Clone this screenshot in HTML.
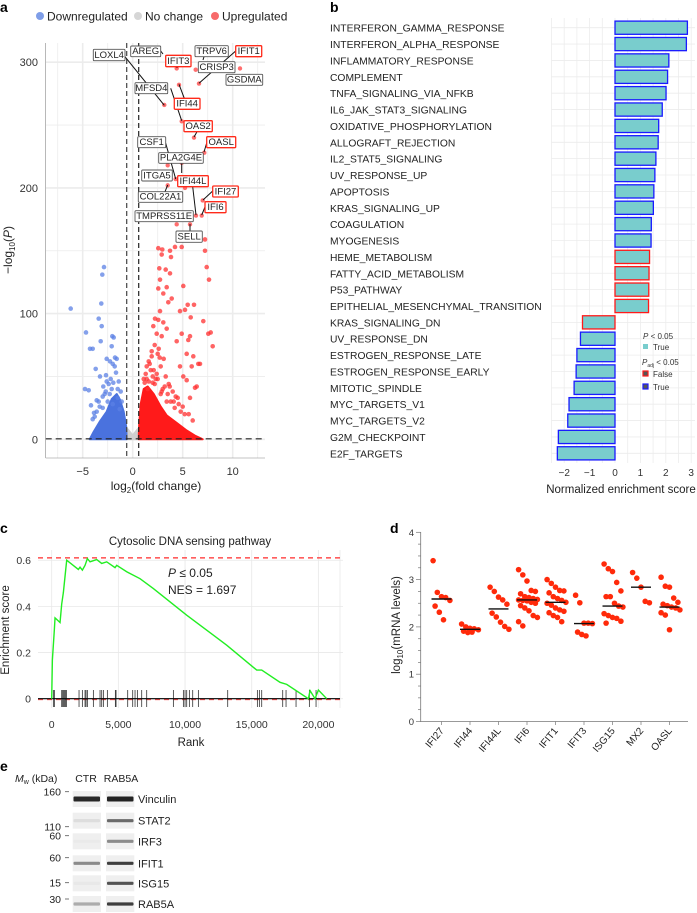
<!DOCTYPE html>
<html><head><meta charset="utf-8">
<style>
html,body{margin:0;padding:0;background:#fff;}
svg{display:block;font-family:"Liberation Sans",sans-serif;}
</style></head>
<body>
<svg id="fig" width="697" height="913" viewBox="0 0 697 913" xmlns="http://www.w3.org/2000/svg">
<g id="pa"></g>
<g id="pb"></g>
<g id="pc"></g>
<g id="pd"></g>
<g id="pe"></g>
</svg>
<script>
// ===== Panel a data =====
const upX = [2.56,2.96,3.73,4.23,4.9,7.23,7.23,2.9,3.83,7.4,2.66,3.3,3.73,7.63,2.73,5.06,2.56,3.4,3.9,3.56,3.06,5.5,6.13,4.73,2.73,5.23,2.56,2.23,3.06,3.4,7.06,5.8,7.56,7.8,8.0,4.9,5.56,5.73,4.4,2.06,2.4,2.9,6.56,6.73,6.06,5.9,5.4,4.73,6.4,6.23,5.73,5.4,5.06,1.6,1.9,2.2,2.5,2.8,3.1,1.4,1.8,2.6,3.3,3.6,4.0,4.3,4.6,1.5,2.0,2.4,3.0,3.5,4.1,4.8,5.2,1.2,1.3,1.7,2.1,2.3,2.7,3.2,3.8,4.2,1.1,1.6,2.0,2.9,3.4,1.9,2.5,3.7,4.5,5.0,5.6,6.0,1.4,2.2,2.8];
const upY = [152,151,150,153,153,159,150,147,145,137,136,135,132,127,127,122,120,121,112,109,116,107,107,102,102,103,95,96,93,88,94,97,84,85,74,84,79,82,78,90,84,82,60,60,66,58,68,58,42,41,33,47,50,62,70,75,68,58,64,48,55,72,50,44,38,34,28,40,45,52,40,36,30,22,20,45,52,60,55,48,65,42,30,25,48,46,50,38,30,66,48,42,33,26,20,15,58,44,36];
const labUpX = [4.4,4.63,6.3,10.73,6.63,3.16,4.9,6.13,7.16,3.5,4.3,4.9,5.23,3.5,7.0,6.9,6.33,4.4,5.73];
const labUpY = [295,282,294,295,283,266,253,240,228,218,207,220,200,202,190,178,178,171,171];
const downX = [-2.87,-3.04,-3.14,-6.2,-3.4,-3.1,-4.67,-4.27,-4.0,-3.2,-2.04,-1.9,-2.1,-2.6,-1.77,-2.27,-3.7,-3.27,-4.77,-4.4,-4.17,-3.87,-3.6,-2.94,-2.67,-1.67,-1.94,-2.3,-2.5,-1.5,-3.0,-2.0,-1.3,-1.2,-1.4,-1.8,-2.2,-2.4,-2.8,-3.4,-3.6,-4.0,-1.6,-2.0,-2.6,-3.0,-3.3,-1.1,-1.5,-2.1,-2.7,-3.8];
const downY = [137,131,108,104,96,90,85,72,72,78,82,81,74,64,65,62,56,50,40,39,27,21,31,42,51,53,45,36,30,40,25,28,24,38,46,58,48,44,36,30,22,16,64,60,46,34,26,30,33,40,38,18];
const upCloudX = [0.6,0.65,0.8,1.1,1.5,2.1,2.8,3.4,4.4,5.4,6.2,7.0,3.0,0.6];
const upCloudY = [0,12,28,40,42,36,26,19,13,7,3,0,0,0];
const downCloudX = [-0.6,-0.65,-0.9,-1.3,-1.6,-2.1,-2.6,-3.3,-3.9,-4.3,-0.6];
const downCloudY = [0,10,22,32,36,32,22,14,6,0,0];
const ncCloudX = [-0.6,-0.5,-0.2,0,0.2,0.5,0.6];
const ncCloudY = [0,8,5,3,5,8,0];
const xTicksA = [-5,0,5,10];
const yTicksA = [0,100,200,300];

// ===== Panel b data =====
const pathways = ["INTERFERON_GAMMA_RESPONSE","INTERFERON_ALPHA_RESPONSE","INFLAMMATORY_RESPONSE","COMPLEMENT","TNFA_SIGNALING_VIA_NFKB","IL6_JAK_STAT3_SIGNALING","OXIDATIVE_PHOSPHORYLATION","ALLOGRAFT_REJECTION","IL2_STAT5_SIGNALING","UV_RESPONSE_UP","APOPTOSIS","KRAS_SIGNALING_UP","COAGULATION","MYOGENESIS","HEME_METABOLISM","FATTY_ACID_METABOLISM","P53_PATHWAY","EPITHELIAL_MESENCHYMAL_TRANSITION","KRAS_SIGNALING_DN","UV_RESPONSE_DN","ESTROGEN_RESPONSE_LATE","ESTROGEN_RESPONSE_EARLY","MITOTIC_SPINDLE","MYC_TARGETS_V1","MYC_TARGETS_V2","G2M_CHECKPOINT","E2F_TARGETS"];
const nes = [2.85,2.81,2.12,2.07,2.01,1.86,1.72,1.70,1.61,1.57,1.53,1.51,1.43,1.42,1.36,1.34,1.33,1.32,-1.28,-1.36,-1.50,-1.53,-1.61,-1.81,-1.86,-2.23,-2.27];
const padjSig = [1,1,1,1,1,1,1,1,1,1,1,1,1,1,0,0,0,0,0,1,1,1,1,1,1,1,1];
const nesTicks = [-2,-1,0,1,2,3];

// ===== Panel c data =====
const esRank = [0,50,200,250,625,750,875,1000,1125,2000,2125,2300,2500,2675,2875,3375,3750,4125,4750,4875,5625,6625,7625,10125,13125,15375,15750,17125,17625,19250,19375,19750,20000,20625];
const esVal = [0,0.167,0.30,0.35,0.33,0.41,0.46,0.53,0.60,0.56,0.57,0.557,0.578,0.607,0.593,0.603,0.586,0.593,0.568,0.578,0.55,0.52,0.477,0.362,0.232,0.124,0.124,0.071,0.062,0,0.035,0,0.0375,0];
const hitRanks = [125,200,750,825,875,950,1025,1100,2050,2300,2500,2575,2675,3125,3625,3750,3875,4175,4775,4825,5700,6075,6250,6425,6750,7125,9125,9875,10000,10125,10325,10575,11000,13200,15425,15575,15750,17325,17575,18325,19325,19825];
const esMax = 0.61;
const rankTicks = [0,5000,10000,15000,20000];
const rankTickLabels = ["0","5,000","10,000","15,000","20,000"];
const esTicks = [0,0.2,0.4,0.6];

// ===== Panel d data =====
const genes = ["IFI27","IFI44","IFI44L","IFI6","IFIT1","IFIT3","ISG15","MX2","OASL"];
const geneValues = [
 [3.40,2.73,2.64,2.62,2.56,2.44,2.31,2.15],
 [2.06,2.00,1.97,1.96,1.94,1.91,1.88,1.89],
 [2.84,2.75,2.63,2.57,2.48,2.29,2.21,2.10,2.01,1.95],
 [3.21,3.10,2.97,2.77,2.75,2.70,2.64,2.62,2.60,2.58,2.57,2.56,2.55,2.52,2.50,2.45,2.40,2.34,2.24,2.20,2.11,2.02],
 [3.00,2.92,2.84,2.77,2.76,2.72,2.64,2.60,2.56,2.52,2.50,2.46,2.40,2.36,2.33,2.30,2.24,2.20,2.11],
 [2.67,2.51,2.08,2.08,2.07,1.89,1.84,1.81],
 [3.33,3.23,3.17,2.94,2.76,2.64,2.64,2.50,2.44,2.42,2.28,2.24,2.20,2.18,2.12,2.08],
 [3.15,3.03,2.84,2.54,2.51],
 [3.05,2.86,2.84,2.61,2.52,2.48,2.45,2.42,2.40,2.36,2.30,2.25,1.94]
];
const geneMedians = [2.59,1.95,2.38,2.57,2.52,2.07,2.44,2.84,2.42];
const dTicks = [0,1,2,3,4];

// ===== Panel e data =====
const blotProteins = ["Vinculin","STAT2","IRF3","IFIT1","ISG15","RAB5A"];
const ctrIntensity = [0.9,0.08,0.02,0.45,0.03,0.3];
const rabIntensity = [0.92,0.6,0.45,0.8,0.7,0.8];
const mwLabels = ["160","110","60","60","15","30"];

const NS="http://www.w3.org/2000/svg";
function mk(parent,tag,attrs,text){const e=document.createElementNS(NS,tag);for(const k in attrs)e.setAttribute(k,attrs[k]);if(text!==undefined)e.textContent=text;parent.appendChild(e);return e;}

// ---------- Panel A ----------
(function(){
const g=document.getElementById('pa');
const xs=v=>132.7+10*v, ys=v=>439.3-1.257*v;
let t=mk(g,'text',{x:0,y:12,'font-size':14,'font-weight':'bold'},'a');


const leg=[["Downregulated","#7f9ee8",40],["No change","#d6d6d6",138],["Upregulated","#f76a6a",215]];
leg.forEach(l=>{const lg=mk(g,'g',{});


mk(lg,'circle',{cx:l[2],cy:16,r:4,fill:l[1]});mk(lg,'text',{x:l[2]+7,y:20.5,'font-size':12,fill:'#222'},l[0]);});
const pl=mk(g,'rect',{x:45.7,y:43,width:219.3,height:415,fill:'#fff'});


for(let v=-7.5;v<=12.5;v+=2.5){const major=(v%5===0);mk(g,'line',{x1:xs(v),x2:xs(v),y1:43,y2:458,stroke:'#ececec','stroke-width':major?1.6:0.8});}
for(let v=0;v<=300;v+=50){const major=(v%100===0);mk(g,'line',{x1:45.7,x2:265,y1:ys(v),y2:ys(v),stroke:'#ececec','stroke-width':major?1.6:0.8});}
mk(g,'line',{x1:45.7,x2:45.7,y1:43,y2:458,stroke:'#888','stroke-width':0.6});
mk(g,'line',{x1:45.7,x2:265,y1:458,y2:458,stroke:'#888','stroke-width':0.6});
yTicksA.forEach(v=>{const tt=mk(g,'text',{x:38,y:ys(v)+4,'font-size':11,'text-anchor':'end',fill:'#333'},v);

});
xTicksA.forEach(v=>{const tt=mk(g,'text',{x:xs(v),y:475,'font-size':11,'text-anchor':'middle',fill:'#333'},v<0?'−'+(-v):v);

});
const xt=mk(g,'text',{x:156,y:490,'font-size':12,'text-anchor':'middle',fill:'#222'});


xt.innerHTML='log<tspan font-size="8" dy="3">2</tspan><tspan dy="-3">(fold change)</tspan>';
const yt=mk(g,'text',{x:0,y:0,'font-size':12,'text-anchor':'middle',fill:'#222',transform:'translate(12,250) rotate(-90)'});


yt.innerHTML='−log<tspan font-size="8" dy="3">10</tspan><tspan dy="-3">(</tspan><tspan font-style="italic">P</tspan>)';
function poly(X,Y,fill,name){const p=X.map((x,i)=>xs(x)+','+ys(Y[i])).join(' ');const e=mk(g,'polygon',{points:p,fill:fill,stroke:fill,'stroke-width':2,'stroke-linejoin':'round'});

}
poly(ncCloudX,ncCloudY,'#cfcfcf','no-change-cloud');
poly(downCloudX,downCloudY,'#4a72de','downregulated-cloud');
poly(upCloudX,upCloudY,'#ff1a1a','upregulated-cloud');
downX.forEach((x,i)=>{const c=mk(g,'circle',{cx:xs(x),cy:ys(downY[i]),r:2.3,fill:'#5b80e4','fill-opacity':0.75});

});
upX.forEach((x,i)=>{const c=mk(g,'circle',{cx:xs(x),cy:ys(upY[i]),r:2.3,fill:'#ff3030','fill-opacity':0.75});

});
labUpX.forEach((x,i)=>{const c=mk(g,'circle',{cx:xs(x),cy:ys(labUpY[i]),r:2.2,fill:'#ff4a4a','fill-opacity':0.8});

});
mk(g,'line',{x1:xs(-0.6),x2:xs(-0.6),y1:43,y2:458,stroke:'#444','stroke-width':1.2,'stroke-dasharray':'5,3'});
mk(g,'line',{x1:xs(0.6),x2:xs(0.6),y1:43,y2:458,stroke:'#222','stroke-width':1.2,'stroke-dasharray':'5,3'});
mk(g,'line',{x1:45.7,x2:265,y1:438.8,y2:438.8,stroke:'#222','stroke-width':1.2,'stroke-dasharray':'6,4'});
const conn=[[125,56.7,164.3,105.3],[160.7,51,163,54],[235.7,51,199,83.3],[204,56.7,203,60],[177,66.7,177,68],[170.7,88.3,181.7,120.7],[179,84.3,184.3,98.3],[197,131.7,194,137],[206.7,143,204,152],[165.7,143.3,175.7,179],[181.7,163.3,181.7,173],[192.7,186.7,196,215],[212.7,191,203,200],[205,207,201.7,215],[165,191.7,167.7,185],[190,231,190,224]];
conn.forEach(c=>{const l=mk(g,'line',{x1:c[0],y1:c[1],x2:c[2],y2:c[3],stroke:'#111','stroke-width':1});

});
const boxes=[["LOXL4",93.3,49.3,125,60.7,0],["AREG",130.7,46,160.7,56.7,0],["IFIT3",165.7,55.3,191,66.7,1],["TRPV6",195,45.7,228.3,56.7,0],["IFIT1",235.7,45.7,261.7,56.7,1],["CRISP3",198.3,61.7,235,72.7,0],["GSDMA",226,74.3,262.7,85.3,0],["MFSD4",135,82.7,167.7,93.7,0],["IFI44",174.3,98.3,200,109.3,1],["OAS2",184,120.7,212.3,131.7,1],["OASL",206.7,136.7,235.7,147.7,1],["CSF1",137.7,136.7,165.7,147.7,0],["PLA2G4E",158.7,152.7,203.3,163.3,0],["ITGA5",141.7,170,172.3,181,0],["IFI44L",177.7,175.7,208.3,186.7,1],["IFI27",212.7,186,238.3,197,1],["COL22A1",138.3,191.7,182.7,202.3,0],["IFI6",205,201.7,226,212.7,1],["TMPRSS11E",135,210.7,193.3,221.7,0],["SELL",176,231,202.3,242.3,0]];
boxes.forEach(b=>{const bg=mk(g,'g',{});


mk(bg,'rect',{x:b[1],y:b[2],width:b[3]-b[1],height:b[4]-b[2],fill:'#fff',stroke:b[5]?'#ff2a1a':'#555','stroke-width':b[5]?1.3:0.9,rx:1});
mk(bg,'text',{x:(b[1]+b[3])/2,y:b[4]-2.6,'font-size':9.5,'text-anchor':'middle',fill:'#222'},b[0]);});
})();

// ---------- Panel B ----------
(function(){
const g=document.getElementById('pb');
const bx=v=>615+25.4*v, ry=i=>27.7+16.37*i;
let t=mk(g,'text',{x:330,y:12,'font-size':14,'font-weight':'bold'},'b');


for(let v=-2.5;v<=3.01;v+=0.5){mk(g,'line',{x1:bx(v),x2:bx(v),y1:18,y2:463,stroke:'#ececec','stroke-width':0.8});}
pathways.forEach((p,i)=>{mk(g,'line',{x1:551.7,x2:695,y1:ry(i),y2:ry(i),stroke:'#ececec','stroke-width':0.8});});
pathways.forEach((p,i)=>{const tt=mk(g,'text',{x:330,y:ry(i)+4,'font-size':10.3,fill:'#222'},p);


const v=nes[i];const x0=Math.min(bx(0),bx(v));const w=Math.abs(bx(v)-bx(0));
const r=mk(g,'rect',{x:x0,y:ry(i)-6.6,width:w,height:13.2,fill:'#79cdcd',stroke:padjSig[i]?'#1a1aff':'#ff1a1a','stroke-width':1.3});

});
nesTicks.forEach(v=>{const tt=mk(g,'text',{x:bx(v),y:476,'font-size':10,'text-anchor':'middle',fill:'#333'},v<0?'−'+(-v):v);

});
const xt=mk(g,'text',{x:621,y:493,'font-size':11.5,'text-anchor':'middle',fill:'#222'},'Normalized enrichment score');


const lg=mk(g,'g',{});


const l1=mk(lg,'text',{x:643,y:339,'font-size':8,fill:'#333'});l1.innerHTML='<tspan font-style="italic">P</tspan> &lt; 0.05';
mk(lg,'rect',{x:643,y:344,width:5,height:5,fill:'#79cdcd'});mk(lg,'text',{x:653,y:350,'font-size':8,fill:'#333'},'True');
const l2=mk(lg,'text',{x:642,y:365,'font-size':8,fill:'#333'});l2.innerHTML='<tspan font-style="italic">P</tspan><tspan font-size="5" dy="2">adj</tspan><tspan dy="-2"> &lt; 0.05</tspan>';
mk(lg,'rect',{x:643,y:371,width:5,height:5,fill:'#555',stroke:'#ff1a1a','stroke-width':1.2});mk(lg,'text',{x:653,y:377,'font-size':8,fill:'#333'},'False');
mk(lg,'rect',{x:643,y:384,width:5,height:5,fill:'#555',stroke:'#1a1aff','stroke-width':1.2});mk(lg,'text',{x:653,y:390,'font-size':8,fill:'#333'},'True');
})();

// ---------- Panel C ----------
(function(){
const g=document.getElementById('pc');
const cx=r=>51.7+r*66.67/5000, cy=e=>698.7-230.8*e;
let t=mk(g,'text',{x:0,y:533,'font-size':14,'font-weight':'bold'},'c');


const ti=mk(g,'text',{x:190,y:545,'font-size':11.5,'text-anchor':'middle',fill:'#222'},'Cytosolic DNA sensing pathway');


rankTicks.forEach(r=>{mk(g,'line',{x1:cx(r),x2:cx(r),y1:550,y2:708,stroke:'#e8e8e8','stroke-width':0.8});});
mk(g,'line',{x1:340,x2:340,y1:550,y2:708,stroke:'#e8e8e8','stroke-width':0.8});
esTicks.forEach(e=>{mk(g,'line',{x1:38,x2:343,y1:cy(e),y2:cy(e),stroke:'#e8e8e8','stroke-width':0.8});
const tt=mk(g,'text',{x:31,y:cy(e)+4,'font-size':10.5,'text-anchor':'end',fill:'#333'},e===0?'0':e.toFixed(1));

});
rankTicks.forEach((r,i)=>{const tt=mk(g,'text',{x:cx(r),y:728,'font-size':10.5,'text-anchor':'middle',fill:'#333'},rankTickLabels[i]);

});
const xt=mk(g,'text',{x:191,y:746,'font-size':11.5,'text-anchor':'middle',fill:'#222'},'Rank');


const yt=mk(g,'text',{x:0,y:0,'font-size':11.5,'text-anchor':'middle',fill:'#222',transform:'translate(9,630) rotate(-90)'},'Enrichment score');


const ml=mk(g,'line',{x1:38,x2:343,y1:cy(esMax),y2:cy(esMax),stroke:'#ff2a2a','stroke-width':1.3,'stroke-dasharray':'5,4'});


mk(g,'line',{x1:38,x2:343,y1:cy(0)+1,y2:cy(0)+1,stroke:'#ff2a2a','stroke-width':0.8,'stroke-dasharray':'5,4'});
hitRanks.forEach(r=>{const l=mk(g,'line',{x1:cx(r),x2:cx(r),y1:690,y2:707,stroke:'#333','stroke-width':0.8});

});
mk(g,'line',{x1:38,x2:340,y1:cy(0),y2:cy(0),stroke:'#000','stroke-width':1.2});
const pts=esRank.map((r,i)=>cx(r)+','+cy(esVal[i])).join(' ');
const cl=mk(g,'polyline',{points:pts,fill:'none',stroke:'#22ee22','stroke-width':1.4});


const p1=mk(g,'text',{x:168,y:577,'font-size':12,fill:'#222'});p1.innerHTML='<tspan font-style="italic">P</tspan> ≤ 0.05';


const p2=mk(g,'text',{x:168,y:594,'font-size':12,fill:'#222'},'NES = 1.697');


})();

// ---------- Panel D ----------
(function(){
const g=document.getElementById('pd');
const dx=i=>441.5+28.5*i, dy=v=>721.5-47.3*v;
let t=mk(g,'text',{x:390,y:533,'font-size':14,'font-weight':'bold'},'d');


mk(g,'line',{x1:420.7,x2:420.7,y1:532,y2:722,stroke:'#777','stroke-width':0.8});
mk(g,'line',{x1:420.7,x2:688,y1:721.5,y2:721.5,stroke:'#777','stroke-width':0.8});
for(let v=0;v<=4.001;v+=0.25){const major=Math.abs(v-Math.round(v))<0.01;mk(g,'line',{x1:major?416:418,x2:420.7,y1:dy(v),y2:dy(v),stroke:'#777','stroke-width':0.7});}
dTicks.forEach(v=>{const tt=mk(g,'text',{x:414,y:dy(v)+3.5,'font-size':9.5,'text-anchor':'end',fill:'#333'},v);

});
const yt=mk(g,'text',{x:0,y:0,'font-size':11.5,'text-anchor':'middle',fill:'#222',transform:'translate(400,625) rotate(-90)'});


yt.innerHTML='log<tspan font-size="8" dy="3">10</tspan><tspan dy="-3">(mRNA levels)</tspan>';
genes.forEach((gn,i)=>{mk(g,'line',{x1:dx(i),x2:dx(i),y1:721.5,y2:725,stroke:'#777','stroke-width':0.7});
const tt=mk(g,'text',{x:0,y:0,'font-size':10,'text-anchor':'end',fill:'#222',transform:`translate(${dx(i)+3},${731}) rotate(-50)`},gn);


const vals=geneValues[i];
vals.forEach((v,j)=>{const off=((j%5)-2)*4.2+((Math.floor(j/5)%2)?2:0);
const c=mk(g,'circle',{cx:dx(i)+off,cy:dy(v),r:2.8,fill:'#ff2a0a'});

});
const m=mk(g,'line',{x1:dx(i)-10,x2:dx(i)+10,y1:dy(geneMedians[i]),y2:dy(geneMedians[i]),stroke:'#111','stroke-width':1.4});

});
})();

// ---------- Panel E ----------
(function(){
const g=document.getElementById('pe');
let t=mk(g,'text',{x:0,y:771,'font-size':14,'font-weight':'bold'},'e');


const mw=mk(g,'text',{x:15,y:782,'font-size':10.5,fill:'#222'});mw.innerHTML='<tspan font-style="italic">M</tspan><tspan font-size="7" dy="2">w</tspan><tspan dy="-2"> (kDa)</tspan>';


const c1=mk(g,'text',{x:86,y:782,'font-size':10.5,'text-anchor':'middle',fill:'#222'},'CTR');


const c2=mk(g,'text',{x:121,y:782,'font-size':10.5,'text-anchor':'middle',fill:'#222'},'RAB5A');


const rowY=[799,820.7,841.3,863.3,883.3,904];
const mwY=[791.7,826.7,835.7,857.7,882.7,899];
mwLabels.forEach((l,i)=>{const tt=mk(g,'text',{x:61,y:mwY[i]+4,'font-size':10.5,'text-anchor':'end',fill:'#222'},l);


mk(g,'line',{x1:65,x2:69,y1:mwY[i],y2:mwY[i],stroke:'#555','stroke-width':0.8});});
blotProteins.forEach((p,i)=>{const y=rowY[i];
const rg=mk(g,'g',{});


mk(rg,'rect',{x:72.7,y:y-8,width:28.3,height:16,fill:'#efefef'});
mk(rg,'rect',{x:106,y:y-8,width:28.3,height:16,fill:'#efefef'});
const a=ctrIntensity[i],b=rabIntensity[i];
mk(rg,'rect',{x:73.5,y:y-(i===0?2.5:1.6),width:26.5,height:i===0?5:3.2,fill:'#111','fill-opacity':a,rx:1});
mk(rg,'rect',{x:107,y:y-(i===0?2.5:1.6),width:26.5,height:i===0?5:3.2,fill:'#111','fill-opacity':b,rx:1});
mk(rg,'text',{x:138,y:y+4,'font-size':11,fill:'#222'},p);});
})();
</script>
</body></html>
